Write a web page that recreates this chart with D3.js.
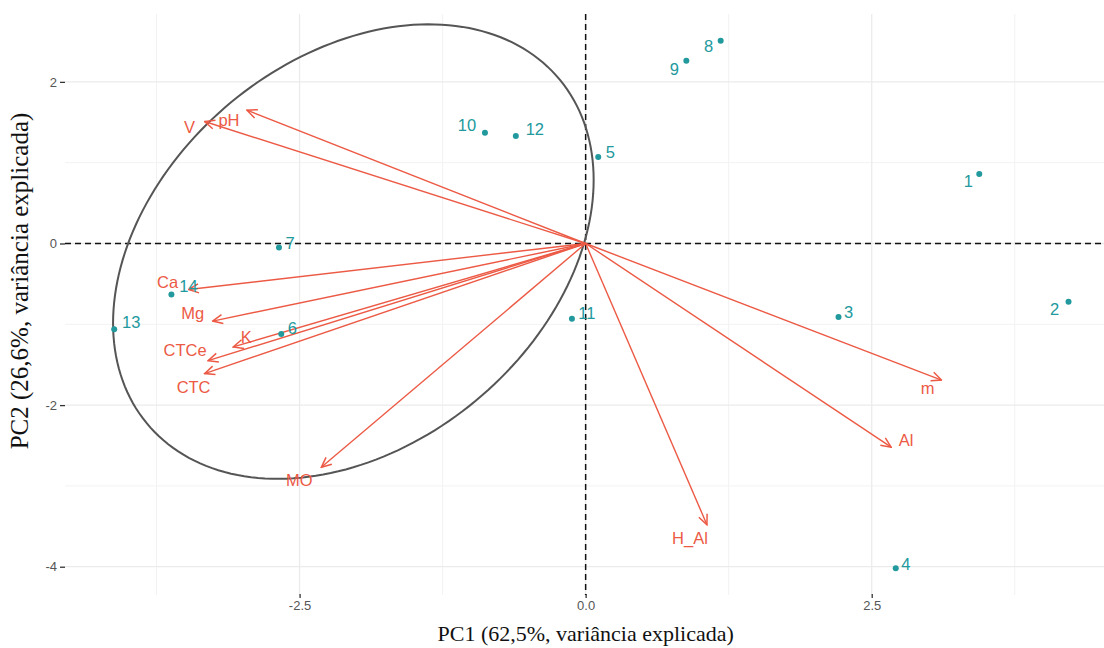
<!DOCTYPE html>
<html>
<head>
<meta charset="utf-8">
<script src="https://cdn.jsdelivr.net/npm/d3@7"></script>
<style>
  body { margin: 0; background: #fff; }
  .tick-lab { font-family: 'Liberation Sans', Arial, sans-serif; font-size: 13px; fill: #555; }
  .ax-title { font-family: 'Liberation Serif', 'DejaVu Serif', serif; fill: #111; }
  .lab { font-family: 'Liberation Sans', Arial, sans-serif; font-size: 16.5px; }
</style>
</head>
<body>
<div class="page"></div>
<script>
// individuals (PC scores)
var indNames = ['1','2','3','4','5','6','7','8','9','10','11','12','13','14'];
var indPC1 = [3.44, 4.22, 2.21, 2.71, 0.11, -2.66, -2.68, 1.18, 0.88, -0.88, -0.12, -0.61, -4.12, -3.62];
var indPC2 = [0.86, -0.72, -0.91, -4.02, 1.07, -1.12, -0.05, 2.51, 2.26, 1.37, -0.93, 1.33, -1.06, -0.63];

// variables (loadings, scaled)
var varNames = ['pH','V','Ca','Mg','K','CTCe','CTC','MO','H_Al','Al','m'];
var varPC1 = [-2.96, -3.33, -3.47, -3.26, -3.08, -3.30, -3.33, -2.31, 1.06, 2.67, 3.11];
var varPC2 = [1.65, 1.51, -0.57, -0.96, -1.28, -1.45, -1.61, -2.77, -3.48, -2.52, -1.69];

var xTicks = [-2.5, 0, 2.5];
var yTicks = [-4, -2, 0, 2];
var xMinor = [-3.75, -1.25, 1.25, 3.75];
var yMinor = [-3, -1, 1];

// concentration ellipse: centre and covariance
var ellCenter = [-2.03, -0.10];
var ellCov = [[4.41, 1.86], [1.86, 7.91]];

// label nudges (px) like ggrepel output
var indNudge = {'1':[-11,7],'2':[-14,7],'3':[10,-5],'4':[10,-4],'5':[12,-5],'6':[11,-6],'7':[11,-5],
  '8':[-12,5],'9':[-12,8],'10':[-18,-8],'11':[15,-6],'12':[19,-7],'13':[17,-7],'14':[17,-8]};
var varNudge = {'pH':[-18,10],'V':[-15,6],'Ca':[-21,-8],'Mg':[-20,-8],'K':[13,-10],'CTCe':[-23,-11],
  'CTC':[-11,13],'MO':[-22,13],'H_Al':[-17,13],'Al':[15,-7],'m':[-14,8]};

var W = 1104, H = 648;
var panel = {left: 65, right: 1104, top: 14, bottom: 595};
var red = '#ec5a45', teal = '#21999d';

var x = d3.scaleLinear().domain([-4.55, 4.53]).range([panel.left, panel.right]);
var y = d3.scaleLinear().domain([-4.35, 2.84]).range([panel.bottom, panel.top]);

var svg = d3.select('.page').append('svg')
  .attr('width', W)
  .attr('height', H)
  .style('display', 'block');

svg.append('rect').attr('width', W).attr('height', H).attr('fill', '#fff');

var defs = svg.append('defs');
defs.append('marker')
  .attr('id', 'arr')
  .attr('viewBox', '-1 -6 12 12')
  .attr('refX', 10).attr('refY', 0)
  .attr('markerWidth', 12).attr('markerHeight', 12)
  .attr('markerUnits', 'userSpaceOnUse')
  .attr('orient', 'auto')
  .append('path')
  .attr('d', 'M0,-4.5L10,0L0,4.5')
  .attr('fill', 'none')
  .attr('stroke', red)
  .attr('stroke-width', 1.5);

// grid
var grid = svg.append('g');
grid.selectAll('.vmin').data(xMinor).enter().append('line')
  .attr('x1', x).attr('x2', x).attr('y1', panel.top).attr('y2', panel.bottom)
  .attr('stroke', '#f2f2f2').attr('stroke-width', 1);
grid.selectAll('.hmin').data(yMinor).enter().append('line')
  .attr('y1', y).attr('y2', y).attr('x1', panel.left).attr('x2', panel.right)
  .attr('stroke', '#f2f2f2').attr('stroke-width', 1);
grid.selectAll('.vmaj').data(xTicks).enter().append('line')
  .attr('x1', x).attr('x2', x).attr('y1', panel.top).attr('y2', panel.bottom)
  .attr('stroke', '#ebebeb').attr('stroke-width', 1.3);
grid.selectAll('.hmaj').data(yTicks).enter().append('line')
  .attr('y1', y).attr('y2', y).attr('x1', panel.left).attr('x2', panel.right)
  .attr('stroke', '#ebebeb').attr('stroke-width', 1.3);

// axes (plain hyphen for minus, like R)
var fmtX = function(d) { return d3.format('.1f')(d).replace('\u2212', '-'); };
var fmtY = function(d) { return d3.format('d')(d).replace('\u2212', '-'); };
var xAxis = d3.axisBottom(x).tickValues(xTicks).tickFormat(fmtX).tickSize(4).tickPadding(3);
var yAxis = d3.axisLeft(y).tickValues(yTicks).tickFormat(fmtY).tickSize(5).tickPadding(3);

var gx = svg.append('g').attr('transform', 'translate(0,' + (panel.bottom - 1) + ')').call(xAxis);
var gy = svg.append('g').attr('transform', 'translate(' + panel.left + ',0)').call(yAxis);
[gx, gy].forEach(function(g) {
  g.select('.domain').remove();
  g.selectAll('line').attr('stroke', '#333').attr('stroke-width', 1.3);
  g.selectAll('text').attr('class', 'tick-lab');
});

// reference lines
svg.append('line')
  .attr('x1', x(0)).attr('x2', x(0)).attr('y1', panel.top).attr('y2', panel.bottom)
  .attr('stroke', '#111').attr('stroke-width', 1.5).attr('stroke-dasharray', '6,4');
svg.append('line')
  .attr('x1', panel.left).attr('x2', panel.right).attr('y1', y(0)).attr('y2', y(0))
  .attr('stroke', '#111').attr('stroke-width', 1.5).attr('stroke-dasharray', '6,4');

// ellipse from centre + covariance (cholesky)
var l11 = Math.sqrt(ellCov[0][0]);
var l21 = ellCov[1][0] / l11;
var l22 = Math.sqrt(ellCov[1][1] - l21 * l21);
var ellPts = d3.range(0, 200).map(function(i) {
  var t = i / 200 * 2 * Math.PI;
  return [ellCenter[0] + l11 * Math.cos(t), ellCenter[1] + l21 * Math.cos(t) + l22 * Math.sin(t)];
});
svg.append('path')
  .attr('d', d3.line().x(function(d) { return x(d[0]); }).y(function(d) { return y(d[1]); })
    .curve(d3.curveLinearClosed)(ellPts))
  .attr('fill', 'none')
  .attr('stroke', '#555')
  .attr('stroke-width', 2);

// variable arrows
var vars = varNames.map(function(n, i) { return {name: n, pc1: varPC1[i], pc2: varPC2[i]}; });
svg.append('g').selectAll('line').data(vars).enter().append('line')
  .attr('x1', x(0)).attr('y1', y(0))
  .attr('x2', function(d) { return x(d.pc1); })
  .attr('y2', function(d) { return y(d.pc2); })
  .attr('stroke', red)
  .attr('stroke-width', 1.4)
  .attr('marker-end', 'url(#arr)');

// individuals
var inds = indNames.map(function(n, i) { return {name: n, pc1: indPC1[i], pc2: indPC2[i]}; });
svg.append('g').selectAll('circle').data(inds).enter().append('circle')
  .attr('cx', function(d) { return x(d.pc1); })
  .attr('cy', function(d) { return y(d.pc2); })
  .attr('r', 3)
  .attr('fill', teal);

svg.append('g').selectAll('text').data(inds).enter().append('text')
  .attr('class', 'lab')
  .attr('x', function(d) { return x(d.pc1) + indNudge[d.name][0]; })
  .attr('y', function(d) { return y(d.pc2) + indNudge[d.name][1]; })
  .attr('text-anchor', 'middle')
  .attr('dominant-baseline', 'central')
  .attr('fill', teal)
  .text(function(d) { return d.name; });

svg.append('g').selectAll('text').data(vars).enter().append('text')
  .attr('class', 'lab')
  .attr('x', function(d) { return x(d.pc1) + varNudge[d.name][0]; })
  .attr('y', function(d) { return y(d.pc2) + varNudge[d.name][1]; })
  .attr('text-anchor', 'middle')
  .attr('dominant-baseline', 'central')
  .attr('fill', red)
  .text(function(d) { return d.name; });

// axis titles
svg.append('text')
  .attr('class', 'ax-title')
  .attr('x', x(0))
  .attr('y', 641)
  .attr('text-anchor', 'middle')
  .style('font-size', '22px')
  .text('PC1 (62,5%, variância explicada)');

svg.append('text')
  .attr('class', 'ax-title')
  .attr('transform', 'translate(28,' + 281 + ') rotate(-90)')
  .attr('text-anchor', 'middle')
  .style('font-size', '25px')
  .text('PC2 (26,6%, variância explicada)');
</script>
</body>
</html>
